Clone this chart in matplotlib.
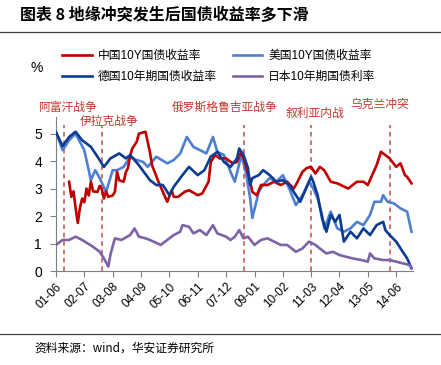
import matplotlib
matplotlib.use("Agg")
import matplotlib.pyplot as plt
import pandas as pd

plt.rcParams['font.family'] = ['Liberation Sans', 'Noto Sans CJK SC']

# 中国10Y国债收益率
cn_dates = ['2001-12', '2002-01', '2002-02', '2002-03', '2002-04', '2002-05', '2002-06', '2002-07',
            '2002-08', '2002-09', '2002-10', '2002-11', '2003-01', '2003-02', '2003-03', '2003-04',
            '2003-05', '2003-06', '2003-08', '2003-09', '2003-10', '2003-11', '2004-01', '2004-02',
            '2004-03', '2004-04', '2004-05',
            '2004-07', '2004-08', '2004-11', '2005-01', '2005-02', '2005-05', '2005-08', '2005-09',
            '2005-11', '2005-12', '2006-02', '2006-03', '2006-05', '2006-07', '2006-11', '2007-01',
            '2007-04', '2007-05', '2007-07', '2007-09', '2007-12', '2008-03', '2008-05', '2008-07',
            '2008-09', '2008-11', '2008-12', '2009-02', '2009-04', '2009-07', '2009-10', '2010-01',
            '2010-04', '2010-07', '2010-08', '2010-11', '2011-01', '2011-03', '2011-05', '2011-07',
            '2011-09', '2011-12', '2012-03', '2012-08', '2012-10', '2012-12', '2013-03', '2013-05',
            '2013-07', '2013-09', '2013-11', '2014-01', '2014-03', '2014-06', '2014-08', '2014-10',
            '2014-11', '2015-01']
cn_vals = [3.25, 2.70, 2.90, 2.30, 1.75, 2.30, 2.64, 2.50,
           3.00, 2.75, 3.25, 2.90, 2.88, 3.10, 3.00, 2.64,
           2.90, 2.70, 2.75, 2.88, 3.61, 3.30, 3.25, 3.60,
           3.75, 4.20, 4.46,
           4.70, 5.00, 5.07, 4.34, 3.85, 3.25, 2.70, 2.52,
           2.94, 2.70, 2.70, 2.76, 2.88, 2.94, 2.76, 2.82,
           3.25, 3.97, 4.22, 4.10, 4.10, 3.92, 3.97, 4.34,
           3.85, 3.25, 2.88, 2.76, 3.13, 3.13, 3.25, 3.13,
           3.25, 3.00, 3.13, 3.61, 3.75, 3.79, 3.55, 3.79,
           3.67, 3.25, 3.19, 3.00, 3.13, 3.25, 3.25, 3.13,
           3.49, 3.85, 4.34, 4.22, 4.10, 3.79, 3.92, 3.49,
           3.43, 3.19]

# 美国10Y国债收益率
us_dates = ['2001-06', '2001-09', '2001-12', '2002-03', '2002-07', '2002-10', '2002-12', '2003-02',
            '2003-05', '2003-08', '2003-10', '2004-01', '2004-04', '2004-07', '2004-10', '2004-12',
            '2005-04', '2005-09', '2005-12', '2006-03', '2006-06', '2006-09', '2006-12', '2007-03',
            '2007-06', '2007-08', '2007-11', '2008-02', '2008-04', '2008-07', '2008-09', '2008-11',
            '2008-12', '2009-03', '2009-05', '2009-08', '2009-11', '2010-02', '2010-05', '2010-08',
            '2010-11', '2011-02', '2011-04', '2011-06', '2011-08', '2011-09', '2011-12', '2012-03',
            '2012-06', '2012-09', '2012-12', '2013-03', '2013-06', '2013-08', '2013-11', '2013-12',
            '2014-02', '2014-05', '2014-08', '2014-11', '2015-01']
us_vals = [5.05, 4.40, 4.76, 5.00, 4.40, 3.31, 3.67, 3.38,
           2.88, 3.67, 3.67, 3.79, 4.16, 4.04, 3.97, 3.79,
           4.16, 3.92, 4.04, 4.28, 4.88, 4.52, 4.40, 4.28,
           4.88, 4.34, 4.22, 3.61, 3.25, 4.22, 3.61, 2.64,
           1.93, 2.88, 3.13, 3.38, 3.25, 3.49, 3.00, 2.40,
           2.76, 3.25, 3.00, 2.64, 2.04, 1.55, 2.16, 1.55,
           1.43, 1.55, 1.79, 1.67, 2.04, 2.52, 2.52, 2.76,
           2.52, 2.46, 2.28, 2.16, 1.43]

# 德国10年期国债收益率
de_dates = ['2001-06', '2001-09', '2001-12', '2002-03', '2002-06', '2002-10', '2003-01', '2003-04',
            '2003-07', '2003-11', '2004-02', '2004-04', '2004-08', '2005-01', '2005-04', '2005-07',
            '2005-10', '2005-12', '2006-04', '2006-07', '2006-11', '2007-02', '2007-05', '2007-08',
            '2007-11', '2008-02', '2008-05', '2008-06', '2008-08', '2008-10', '2008-11', '2008-12',
            '2009-03', '2009-05', '2009-08', '2009-11', '2010-02', '2010-05', '2010-08', '2010-10',
            '2010-12', '2011-03', '2011-04', '2011-06', '2011-08', '2011-10', '2011-12', '2012-02',
            '2012-04', '2012-06', '2012-09', '2012-12', '2013-03', '2013-06', '2013-09', '2013-12',
            '2014-01', '2014-03', '2014-06', '2014-09', '2014-11', '2015-01']
de_vals = [5.05, 4.55, 4.88, 5.07, 4.76, 4.52, 4.16, 3.79,
           4.10, 4.28, 4.10, 4.22, 3.85, 3.31, 3.13, 3.13,
           2.76, 3.07, 3.49, 3.79, 3.49, 3.67, 4.16, 4.34,
           3.97, 3.79, 4.10, 4.46, 4.22, 3.75, 3.13, 3.38,
           3.49, 3.67, 3.49, 3.25, 3.31, 3.13, 2.76, 2.52,
           2.88, 3.43, 3.25, 2.76, 1.93, 1.43, 2.04, 1.79,
           2.04, 1.07, 1.43, 1.19, 1.55, 1.31, 1.67, 1.79,
           1.49, 1.31, 1.07, 0.70, 0.46, 0.10]

# 日本10年期国债利率
jp_dates = ['2001-06', '2001-09', '2001-12', '2002-03', '2002-06', '2002-11', '2003-02', '2003-04',
            '2003-06', '2003-07', '2003-08', '2003-09', '2003-12', '2004-04', '2004-06', '2004-08',
            '2004-11', '2005-01', '2005-06', '2005-09', '2005-12', '2006-03', '2006-04', '2006-07',
            '2006-09', '2006-12', '2007-03', '2007-06', '2007-08', '2007-12', '2008-02', '2008-04',
            '2008-06', '2008-08', '2008-10', '2009-01', '2009-04', '2009-07', '2009-10', '2010-01',
            '2010-04', '2010-08', '2010-11', '2011-02', '2011-05', '2011-07', '2011-10', '2012-01',
            '2012-04', '2012-07', '2012-10', '2013-02', '2013-05', '2013-06', '2013-08', '2013-12',
            '2014-03', '2014-06', '2014-09', '2014-12', '2015-01']
jp_vals = [0.95, 1.13, 1.13, 1.25, 1.13, 0.88, 0.70, 0.46,
           0.16, 0.60, 0.90, 1.19, 1.13, 1.31, 1.55, 1.25,
           1.19, 1.13, 0.95, 1.13, 1.31, 1.43, 1.67, 1.61,
           1.37, 1.49, 1.31, 1.67, 1.37, 1.25, 1.13, 1.25,
           1.49, 1.19, 1.25, 0.95, 1.13, 1.19, 1.07, 0.95,
           0.95, 0.70, 0.82, 1.07, 0.95, 0.82, 0.64, 0.70,
           0.58, 0.52, 0.46, 0.40, 0.34, 0.64, 0.46, 0.40,
           0.40, 0.34, 0.28, 0.22, 0.10]

event_dates = ['2001-09-20', '2003-03-05', '2008-08-10', '2011-03-01', '2014-03-01']
event_names = ['阿富汗战争', '伊拉克战争', '俄罗斯格鲁吉亚战争', '叙利亚内战', '乌克兰冲突']

fig = plt.figure(figsize=(4.41, 3.65), dpi=100)
ax = fig.add_axes([0.127, 0.2575, 0.81, 0.4215])

lw = 1.9
ax.plot(pd.to_datetime(us_dates), us_vals, color='#4F7FD0', lw=lw, label='美国10Y国债收益率', zorder=2)
ax.plot(pd.to_datetime(cn_dates), cn_vals, color='#C00000', lw=lw, label='中国10Y国债收益率', zorder=3)
ax.plot(pd.to_datetime(de_dates), de_vals, color='#0A3C92', lw=lw, label='德国10年期国债收益率', zorder=4)
ax.plot(pd.to_datetime(jp_dates), jp_vals, color='#7E62A8', lw=lw, label='日本10年期国债利率', zorder=4)

ev = pd.to_datetime(event_dates)
ax.vlines(ev, 0, 5.3, colors='#C0504D', linestyles=(0, (3, 2.5)), lw=1.1, zorder=1, clip_on=False)

ax.set_ylim(0, 5.6)
ax.set_xlim(pd.Timestamp('2001-06-01'), pd.Timestamp('2015-01-25'))
ticks = pd.date_range('2001-06-01', periods=13, freq='13MS')
ax.set_xticks(ticks)
ax.set_xticklabels([t.strftime('%y-%m') for t in ticks], rotation=45, ha='right',
                   va='top', rotation_mode='anchor', fontsize=8.5)
ax.set_yticks(range(6))
ax.tick_params(axis='y', labelsize=10, length=4, color='#808080', pad=6)
ax.tick_params(axis='x', length=4, color='#808080', pad=3)
for s in ['top', 'right']:
    ax.spines[s].set_visible(False)
for s in ['left', 'bottom']:
    ax.spines[s].set_color('#808080')

# event labels
lab_pos = [(67, 107), (109, 121), (225, 107), (315, 113), (380, 104)]
for name, (px, py) in zip(event_names, lab_pos):
    fig.text(px / 441, 1 - py / 365, name, ha='center', va='center', color='#C0392B',
             fontsize=8.5, family=['Noto Sans CJK SC'])

h, l = ax.get_legend_handles_labels()
order = [1, 2, 0, 3]
fig.legend([h[i] for i in order], [l[i] for i in order], ncol=2, loc='upper left',
           bbox_to_anchor=(62 / 441, 1 - 50 / 365), frameon=False, fontsize=8.5,
           handlelength=2.5, handletextpad=0.5, columnspacing=1.4, labelspacing=0.75,
           borderaxespad=0, borderpad=0)

fig.text(37 / 441, 1 - 68 / 365, '%', ha='center', va='center', fontsize=10)

fig.text(20 / 441, 1 - 15 / 365, '图表 8 地缘冲突发生后国债收益率多下滑', ha='left', va='center',
         fontsize=11.5, fontweight='bold', family=['Noto Sans CJK SC'])
fig.add_artist(plt.Line2D([0, 1], [1 - 31.5 / 365] * 2, color='#404040', lw=0.9))
fig.add_artist(plt.Line2D([0, 1], [1 - 334 / 365] * 2, color='#404040', lw=0.9))
fig.text(34 / 441, 1 - 348 / 365, '资料来源：wind，华安证券研究所', ha='left', va='center',
         fontsize=8.5, family=['Noto Sans CJK SC', 'Liberation Sans'])

fig.savefig('out.png', dpi=100)
